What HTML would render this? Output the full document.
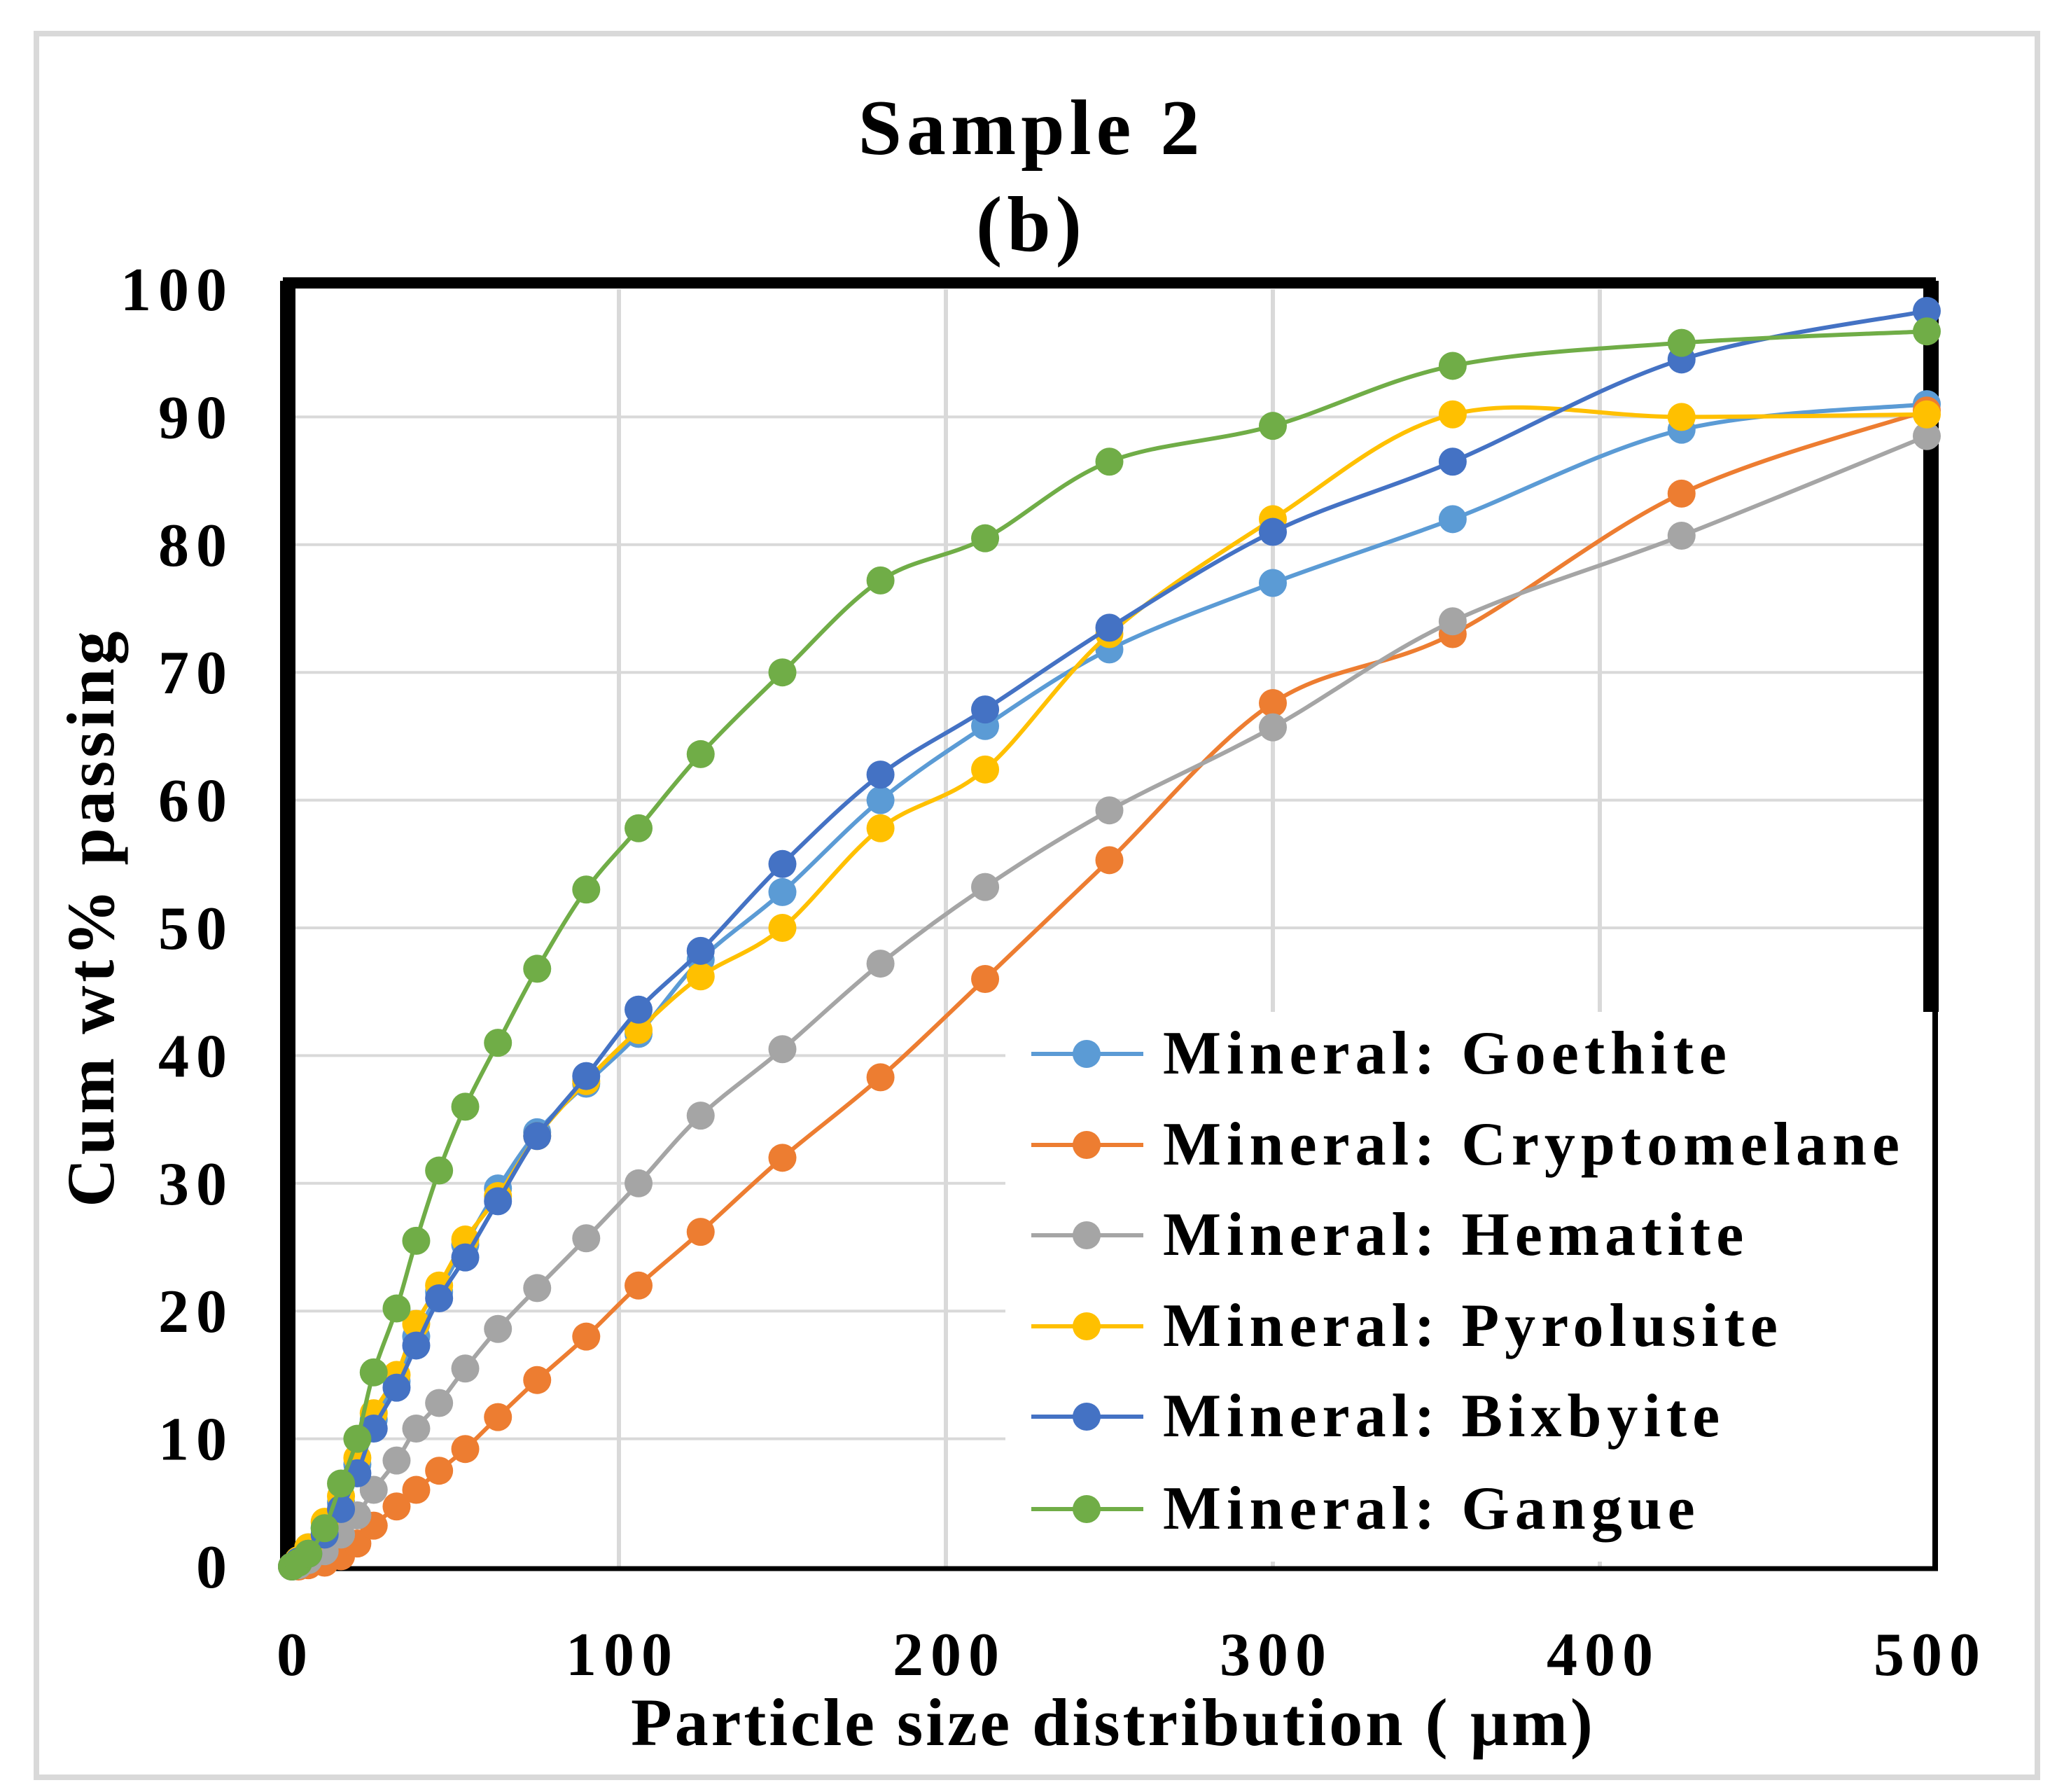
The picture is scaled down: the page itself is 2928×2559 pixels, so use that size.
<!DOCTYPE html>
<html><head><meta charset="utf-8"><style>
html,body{margin:0;padding:0;background:#fff}
svg{display:block}
text{font-family:"Liberation Serif",serif;font-weight:bold;fill:#000}
</style></head><body>
<svg id="chart" width="2928" height="2559" viewBox="0 0 2928 2559" xmlns="http://www.w3.org/2000/svg">
<rect x="52" y="48" width="2858" height="2490" fill="#fff" stroke="#d9d9d9" stroke-width="8"/>
<text x="1473" y="220" font-size="112" letter-spacing="7" text-anchor="middle">Sample 2</text>
<text x="1473" y="358" font-size="112" letter-spacing="7" text-anchor="middle">(b)</text>
<g id="grid"></g>
<g id="frame"></g>
<g id="yticks"></g>
<g id="xticks"></g>
<g id="series"></g>
<text x="0" y="0" font-size="96" letter-spacing="5" text-anchor="middle" transform="translate(162,1310) rotate(-90)">Cum wt% passing</text>
<text x="1590" y="2492" font-size="96" letter-spacing="4" text-anchor="middle">Particle size distribution ( µm)</text>
<g id="legend"></g>
</svg>
<script>
const sizes=[0,2,5,10,15,20,25,32,38,45,53,63,75,90,106,125,150,180,212,250,300,355,425,500];
const goethite=[0,0.5,1.5,3,5,8,11.5,14.5,18,21.5,25.2,29.6,34,37.8,41.7,47.5,52.8,60,65.8,71.8,77,82,89,91];
const cryptomelane=[0,0,0.1,0.3,0.8,1.8,3.2,4.7,6,7.5,9.2,11.7,14.6,18,22,26.2,32,38.3,46,55.3,67.6,73,84,90.5];
const hematite=[0,0.1,0.5,1.2,2.5,4,6,8.3,10.8,12.8,15.5,18.6,21.8,25.7,30,35.3,40.5,47.2,53.2,59.2,65.7,74,80.7,88.5];
const pyrolusite=[0,0.5,1.5,3.5,5.5,8.5,12,15,19,22,25.6,29,33.7,38,42,46.2,50,57.8,62.4,73,82,90.2,90,90.2];
const bixbyite=[0,0.4,1,2.5,4.5,7.3,10.8,14,17.3,21,24.2,28.6,33.7,38.4,43.6,48.2,55,62,67.1,73.5,81,86.5,94.5,98.3];
const gangue=[0,0.3,1,3,6.5,10,15.2,20.2,25.5,31,36,41,46.8,53,57.8,63.6,70,77.2,80.5,86.5,89.3,94,95.8,96.7];
const seriesNames=["Mineral: Goethite","Mineral: Cryptomelane","Mineral: Hematite","Mineral: Pyrolusite","Mineral: Bixbyite","Mineral: Gangue"];
const seriesColors=["#5B9BD5","#ED7D31","#A5A5A5","#FFC000","#4472C4","#70AD47"];
const yTicks=[0,10,20,30,40,50,60,70,80,90,100];
const xTicks=[0,100,200,300,400,500];

const NS="http://www.w3.org/2000/svg";
const X0=417,X1=2752,Y0=2237,Y1=413;
const xs=v=>X0+(v-0)/500*(X1-X0);
const ys=v=>Y0-(v-0)/100*(Y0-Y1);
function mk(tag,attrs,parent){const e=document.createElementNS(NS,tag);for(const k in attrs)e.setAttribute(k,attrs[k]);parent.appendChild(e);return e;}
const grid=document.getElementById('grid');
yTicks.forEach(t=>{if(t===0||t===100)return;
 const l=mk('line',{x1:X0,x2:X1,y1:ys(t),y2:ys(t),stroke:'#d9d9d9','stroke-width':4},grid);
 
 });
xTicks.forEach(t=>{if(t===0||t===500)return;
 const l=mk('line',{x1:xs(t),x2:xs(t),y1:Y1,y2:Y0,stroke:'#d9d9d9','stroke-width':6},grid);
 
 });
const fr=document.getElementById('frame');
[[X0-13,Y1-9,X1+13,Y1-9,16],[X0-6,Y1-12,X0-6,Y0+6,22],[X1+6,Y1-12,X1+6,1445,22],[X0-12,Y0+3,X1+16,Y0+3,7],[X1+12,1445,X1+12,Y0+6,8]].forEach(a=>{
 const l=mk('line',{x1:a[0],y1:a[1],x2:a[2],y2:a[3],stroke:'#000','stroke-width':a[4]},fr);
 
 });
const yt=document.getElementById('yticks');
yTicks.forEach(t=>{const e=mk('text',{x:334,y:ys(t)+30,'font-size':88,'text-anchor':'end','letter-spacing':10},yt);e.textContent=t;
 
 });
const xt=document.getElementById('xticks');
xTicks.forEach(t=>{const e=mk('text',{x:xs(t)+5,y:2392,'font-size':88,'text-anchor':'middle','letter-spacing':10},xt);e.textContent=t;
 
 });
function smooth(pts){let d=`M${pts[0][0]},${pts[0][1]}`;
 for(let i=0;i<pts.length-1;i++){const p0=pts[Math.max(0,i-1)],p1=pts[i],p2=pts[i+1],p3=pts[Math.min(pts.length-1,i+2)];
  const c1=[p1[0]+(p2[0]-p0[0])/6,p1[1]+(p2[1]-p0[1])/6],c2=[p2[0]-(p3[0]-p1[0])/6,p2[1]-(p3[1]-p1[1])/6];
  d+=` C${c1[0]},${c1[1]} ${c2[0]},${c2[1]} ${p2[0]},${p2[1]}`;}
 return d;}
const allSeries=[goethite,cryptomelane,hematite,pyrolusite,bixbyite,gangue];
const sg=document.getElementById('series');
allSeries.forEach((vals,si)=>{
 const g=mk('g',{},sg);
 
 
 const pts=sizes.map((s,i)=>[xs(s),ys(vals[i])]);
 const p=mk('path',{d:smooth(pts),fill:'none',stroke:seriesColors[si],'stroke-width':6},g);
 
 
 pts.forEach(pt=>{const c=mk('circle',{cx:pt[0],cy:pt[1],r:20,fill:seriesColors[si]},g);
  
  });
});
const lg=document.getElementById('legend');
const bg=mk('rect',{x:1436,y:1445,width:1316,height:785,fill:'#fff'},lg);


const ly=[1505,1635,1764,1894,2023,2155];
seriesNames.forEach((n,i)=>{
 const g=mk('g',{},lg);
 
 
 mk('line',{x1:1473,x2:1633,y1:ly[i],y2:ly[i],stroke:seriesColors[i],'stroke-width':6},g);
 mk('circle',{cx:1552,cy:ly[i],r:20,fill:seriesColors[i]},g);
 const t=mk('text',{x:1661,y:ly[i]+28,'font-size':88,'letter-spacing':8},g);t.textContent=n;
});
</script>
</body></html>
